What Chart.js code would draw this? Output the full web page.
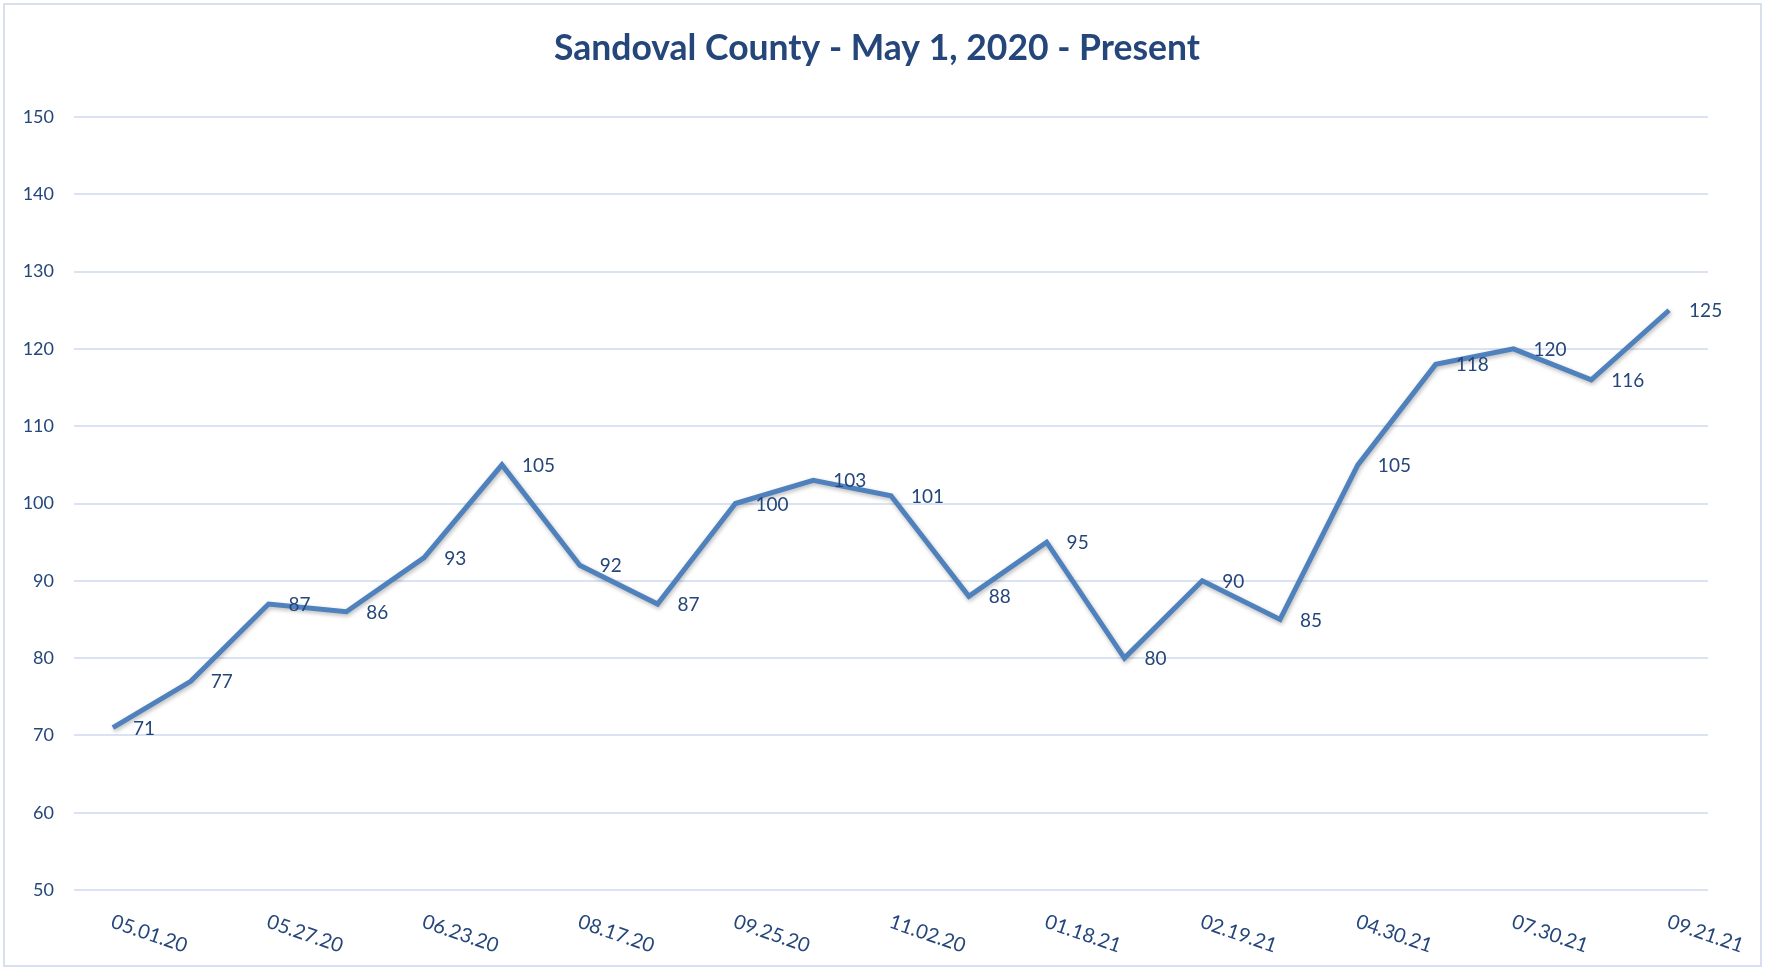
<!DOCTYPE html>
<html>
<head>
<meta charset="utf-8">
<script src="https://cdn.jsdelivr.net/npm/chart.js@4/dist/chart.umd.min.js"></script>
<style>
  html, body { margin: 0; padding: 0; background: #fff; }
  #wrap { width: 1765px; height: 970px; }
</style>
</head>
<body>
<div id="wrap"><canvas id="c" width="1765" height="970"></canvas></div>
<script>
// Data
const categories = [
  '05.01.20', '', '05.27.20', '', '06.23.20', '', '08.17.20', '',
  '09.25.20', '', '11.02.20', '', '01.18.21', '', '02.19.21', '',
  '04.30.21', '', '07.30.21', '', '09.21.21'
];
const values = [
  71, 77, 87, 86, 93, 105, 92, 87, 100, 103, 101,
  88, 95, 80, 90, 85, 105, 118, 120, 116, 125
];
const yTicks = [50, 60, 70, 80, 90, 100, 110, 120, 130, 140, 150];

const TITLE = 'Sandoval County - May 1, 2020 - Present';
const FONT = 'Lato, "Open Sans", sans-serif';
const TEXT = '#24467a';
const LINE = '#4f81bd';
const GRID = '#d9e3f1';

// Frame, title, x labels and point labels drawn through the chart's scales
const extras = {
  id: 'extras',
  beforeDraw(chart) {
    const ctx = chart.ctx;
    ctx.save();
    ctx.strokeStyle = '#d6e0ee';
    ctx.lineWidth = 2;
    ctx.strokeRect(4, 4, chart.width - 8, chart.height - 8);
    ctx.restore();
  },
  beforeDatasetDraw(chart) {
    const ctx = chart.ctx;
    ctx.save();
    ctx.shadowColor = 'rgba(0,0,0,0.28)';
    ctx.shadowBlur = 4;
    ctx.shadowOffsetX = 1;
    ctx.shadowOffsetY = 2;
  },
  afterDatasetDraw(chart) {
    chart.ctx.restore();
  },
  afterDraw(chart) {
    const ctx = chart.ctx;
    const x = chart.scales.x;
    const y = chart.scales.y;
    ctx.save();
    ctx.fillStyle = TEXT;

    // title, centred a little right of the plot centre like the original
    ctx.font = 'bold 35.5px ' + FONT;
    ctx.textAlign = 'center';
    ctx.textBaseline = 'middle';
    ctx.fillText(TITLE, 877, 49);

    // rotated category labels
    ctx.font = '20px ' + FONT;
    ctx.textAlign = 'left';
    categories.forEach((c, i) => {
      if (!c) return;
      ctx.save();
      ctx.translate(x.getPixelForValue(i) - 1, 921);
      ctx.rotate(19 * Math.PI / 180);
      ctx.fillText(c, 0, 0);
      ctx.restore();
    });

    // value labels to the right of each point
    ctx.font = '19px ' + FONT;
    values.forEach((v, i) => {
      ctx.fillText(String(v), x.getPixelForValue(i) + 20, y.getPixelForValue(v) + 1);
    });
    ctx.restore();
  }
};

new Chart(document.getElementById('c'), {
  type: 'line',
  data: {
    labels: categories,
    datasets: [{
      data: values,
      borderColor: LINE,
      borderWidth: 5,
      pointRadius: 0,
      tension: 0,
      fill: false,
    }],
  },
  options: {
    responsive: false,
    animation: false,
    devicePixelRatio: 1,
    layout: { padding: { left: 0, right: 57, top: 117, bottom: 0 } },
    plugins: {
      legend: { display: false },
      tooltip: { enabled: false },
      title: { display: false },
    },
    scales: {
      x: {
        offset: true,
        grid: { display: false },
        border: { display: false },
        ticks: { display: false },
        afterFit: (s) => { s.height = 80; },
      },
      y: {
        min: 50,
        max: 150,
        afterBuildTicks: (s) => { s.ticks = yTicks.map(v => ({ value: v })); },
        grid: { color: GRID, lineWidth: 2, drawTicks: false },
        border: { display: false },
        ticks: {
          color: TEXT,
          font: { family: FONT, size: 18 },
          padding: 20,
        },
        afterFit: (s) => { s.width = 74; },
      },
    },
  },
  plugins: [extras],
});
</script>
</body>
</html>
